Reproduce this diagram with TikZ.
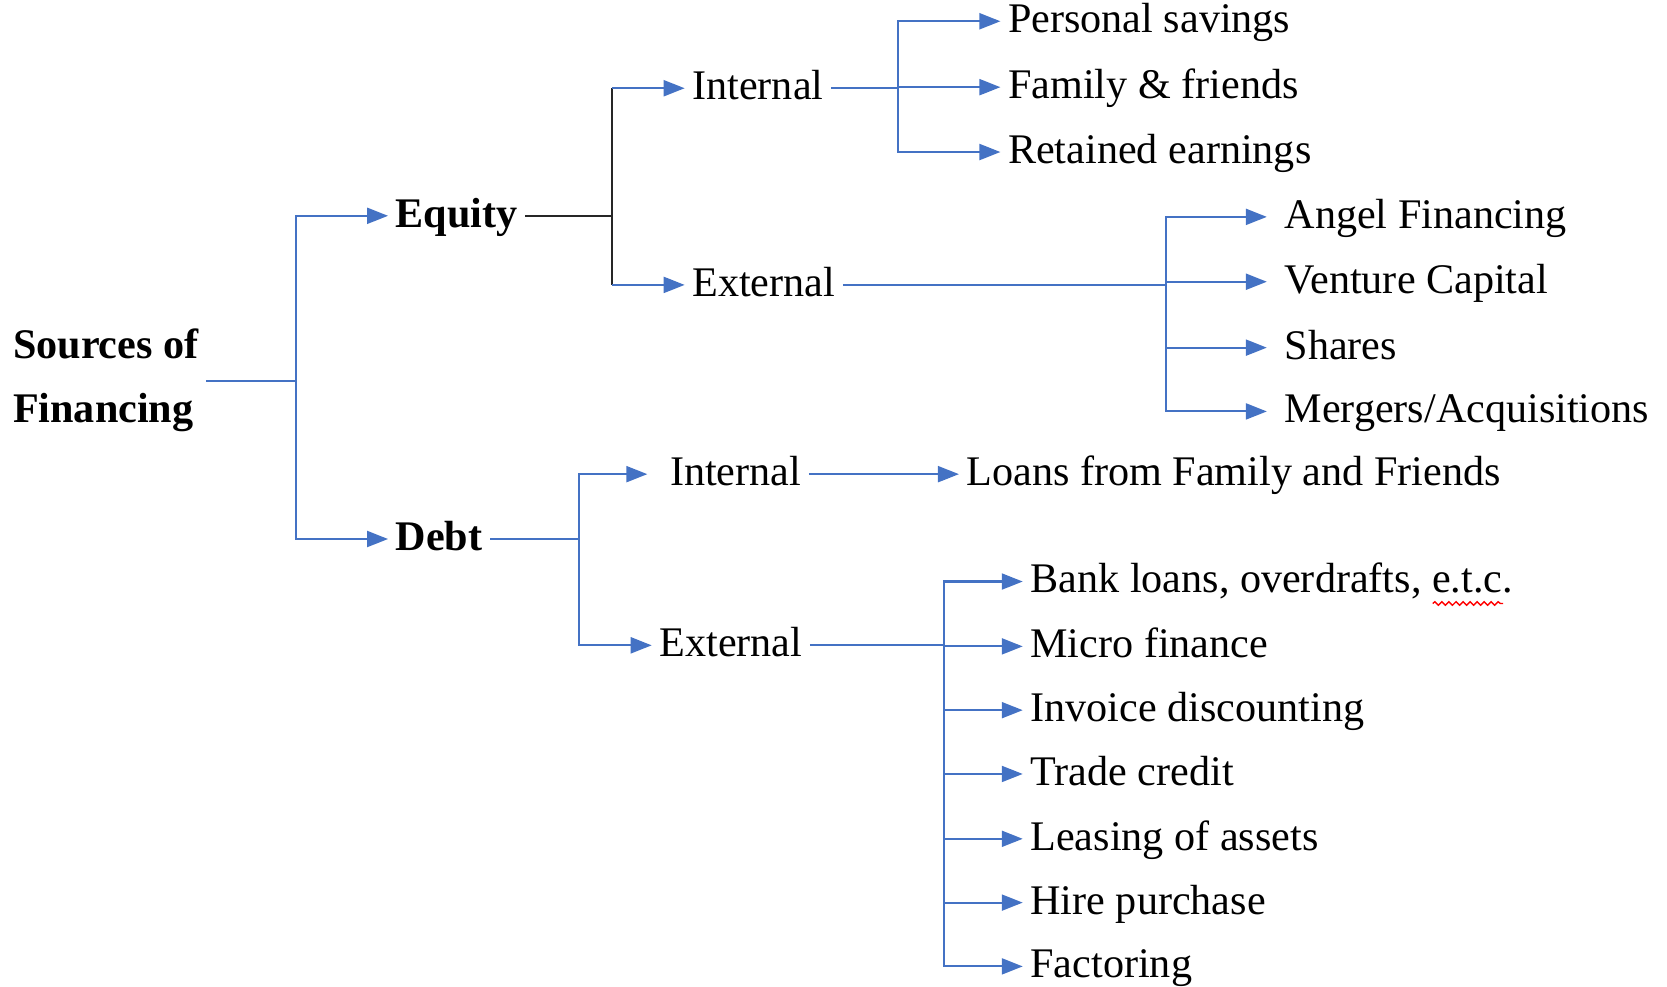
\documentclass[tikz,border=0pt]{standalone}
\usepackage{fontspec}
\setmainfont{Liberation Serif}
\usetikzlibrary{arrows.meta, decorations.pathmorphing}
\definecolor{linkblue}{HTML}{4472C4}

\begin{document}
\begin{tikzpicture}[
    x=0.010631cm, y=-0.010631cm,
    every node/.style={font=\fontsize{12}{14}\selectfont},
    item/.style={
        anchor=west, inner xsep=2pt, inner ysep=0pt,
        text height=0.8em, text depth=0.15em
    },
    head/.style={item, font=\fontsize{12}{14}\selectfont\bfseries},
    link/.style={draw=linkblue, line width=0.6pt},
    arrow/.style={link, -{Triangle[length=2.1mm, width=1.6mm]}},
    blackline/.style={draw=black!85, line width=0.6pt},
    spell/.style={draw=red, line width=0.4pt, decorate,
        decoration={snake, segment length=2pt, amplitude=0.5pt}}
]
\useasboundingbox (0,0) rectangle (1568,928);

% --- Root ---
\node[anchor=west, align=left, inner sep=2pt,
      font=\fontsize{12}{18.1}\selectfont\bfseries] (src) at (5,358) {Sources of\\Financing};

% --- Equity ---
\node[head] (eq) at (365,203) {Equity};
\node[item] (eqint) at (644,83) {Internal};
\node[item] (eqext) at (644,268) {External};

\node[item] (ps) at (941,20) {Personal savings};
\node[item] (ff) at (941,82) {Family \& friends};
\node[item] (re) at (941,143) {Retained earnings};

\node[item] (af) at (1201,204) {Angel Financing};
\node[item] (vc) at (1201,265) {Venture Capital};
\node[item] (sh) at (1201,327) {Shares};
\node[item] (ma) at (1201,387) {Mergers/Acquisitions};

% --- Debt ---
\node[head] (debt) at (365,507) {Debt};
\node[item] (dint) at (623,446) {Internal};
\node[item] (dext) at (613,607) {External};

\node[item] (loans) at (902,446) {Loans from Family and Friends};

\node[item] (bank) at (962,547) {Bank loans, overdrafts, e.t.c.};
\node[item] (micro) at (962,608) {Micro finance};
\node[item] (inv) at (962,668) {Invoice discounting};
\node[item] (trade) at (962,728) {Trade credit};
\node[item] (lease) at (962,789) {Leasing of assets};
\node[item] (hire) at (962,849) {Hire purchase};
\node[item] (fact) at (962,909) {Factoring};

% --- Junctions ---
\coordinate (j0) at (278,358);
\coordinate (j1) at (576,203);
\coordinate (j2) at (845,83);
\coordinate (j3) at (1097,268);
\coordinate (j4) at (545,507);
\coordinate (j5) at (888,607);

% --- Arrows ---
\draw[link] (src) -- (j0);
\draw[arrow] (j0) |- (eq);
\draw[arrow] (j0) |- (debt);

\draw[blackline] (eq) -- (j1);
\draw[blackline] (j1 |- eqint) -- (j1 |- eqext);
\draw[arrow] (j1 |- eqint) -- (eqint);
\draw[arrow] (j1 |- eqext) -- (eqext);

\draw[link] (eqint) -- (j2);
\draw[arrow] (j2) |- (ps);
\draw[arrow] (j2) |- (ff);
\draw[arrow] (j2) |- (re);

\draw[link] (eqext) -- (j3);
\draw[arrow, shorten >=1mm] (j3) |- (af);
\draw[arrow, shorten >=1mm] (j3) |- (vc);
\draw[arrow, shorten >=1mm] (j3) |- (sh);
\draw[arrow, shorten >=1mm] (j3) |- (ma);

\draw[link] (debt) -- (j4);
\draw[arrow, shorten >=1.5mm] (j4) |- (dint);
\draw[arrow] (j4) |- (dext);
\draw[arrow] (dint) -- (loans);

\draw[link] (dext) -- (j5);
\draw[arrow] (j5) |- (bank);
\draw[arrow] (j5) |- (micro);
\draw[arrow] (j5) |- (inv);
\draw[arrow] (j5) |- (trade);
\draw[arrow] (j5) |- (lease);
\draw[arrow] (j5) |- (hire);
\draw[arrow] (j5) |- (fact);

% spell-check mark under e.t.c
\draw[spell] ([xshift=-25pt, yshift=-3pt]bank.base east) -- ([xshift=-5pt, yshift=-3pt]bank.base east);

\end{tikzpicture}
\end{document}
